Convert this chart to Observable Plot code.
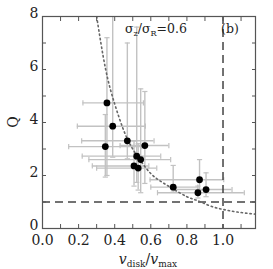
<!DOCTYPE html>
<html><head><meta charset="utf-8">
<script src="https://cdn.jsdelivr.net/npm/d3@7"></script>
<script src="https://cdn.jsdelivr.net/npm/@observablehq/plot@0.6"></script>
<style>body{margin:0;background:#fff}</style>
</head><body><div id="chart"></div>
<script>
// data points
const vRatio = [0.357, 0.389, 0.47, 0.348, 0.567, 0.522, 0.544, 0.507, 0.53, 0.724, 0.87, 0.861, 0.906];
const qVal   = [4.74, 3.86, 3.31, 3.09, 3.13, 2.73, 2.6, 2.36, 2.28, 1.56, 1.84, 1.35, 1.47];
const vLo    = [0.224, 0.193, 0.217, 0.145, 0.43, 0.22, 0.257, 0.276, 0.30, 0.60, 0.596, 0.637, 0.74];
const vHi    = [0.559, 0.57, 0.618, 0.55, 0.70, 0.655, 0.71, 0.589, 0.633, 0.86, 1.004, 1.118, 1.05];
const qLo    = [2.0, 2.69, 2.63, 1.94, 1.7, 1.74, 1.35, 1.6, 1.45, 1.37, 1.45, 1.15, 1.2];
const qHi    = [7.2, 9.0, 7.0, 4.3, 5.17, 7.6, 5.27, 3.3, 3.2, 2.38, 2.6, 1.6, 2.1];
// dotted model curve
const curveX = [0.30, 0.35, 0.40, 0.45, 0.50, 0.56, 0.62, 0.71, 0.80, 0.86, 0.93, 1.00, 1.08, 1.18];
const curveQ = [8.0, 6.0, 4.7, 3.7, 3.0, 2.4, 1.95, 1.55, 1.2, 1.05, 0.85, 0.72, 0.62, 0.54];
// reference lines
const qRef = [1];
const vRef = [1.0];
// ticks
const xMajor = [0, 0.2, 0.4, 0.6, 0.8, 1.0];
const xMinor = [0, 0.1, 0.2, 0.3, 0.4, 0.5, 0.6, 0.7, 0.8, 0.9, 1.0, 1.1];
const yMajor = [0, 2, 4, 6, 8];
const yMinor = [0, 1, 2, 3, 4, 5, 6, 7, 8];

const pts = vRatio.map((v, i) => ({v, q: qVal[i], vlo: vLo[i], vhi: vHi[i], qlo: qLo[i], qhi: qHi[i]}));
const curve = curveX.map((x, i) => ({x, q: curveQ[i]}));

const vcap = {draw(ctx) { ctx.moveTo(0, -2.6); ctx.lineTo(0, 2.6); }};
const hcap = {draw(ctx) { ctx.moveTo(-2.6, 0); ctx.lineTo(2.6, 0); }};
const errColor = "#c2c2c2";
const axisColor = "#555";

const chart = Plot.plot({
  width: 273, height: 269,
  marginLeft: 42, marginRight: 18, marginTop: 16, marginBottom: 41,
  style: {fontFamily: "DejaVu Serif", fontSize: "14px", color: "#222", background: "#fff"},
  x: {domain: [0, 1.18]},
  y: {domain: [0, 8]},
  marks: [
    // error bars
    Plot.ruleY(pts, {y: "q", x1: "vlo", x2: "vhi", stroke: errColor, strokeWidth: 1.4, clip: true}),
    Plot.ruleX(pts, {x: "v", y1: "qlo", y2: "qhi", stroke: errColor, strokeWidth: 1.4, clip: true}),
    Plot.dot(pts, {x: "vlo", y: "q", symbol: vcap, stroke: errColor, strokeWidth: 1.2, fill: "none", clip: true}),
    Plot.dot(pts, {x: "vhi", y: "q", symbol: vcap, stroke: errColor, strokeWidth: 1.2, fill: "none", clip: true}),
    Plot.dot(pts, {x: "v", y: "qlo", symbol: hcap, stroke: errColor, strokeWidth: 1.2, fill: "none", clip: true}),
    Plot.dot(pts, {x: "v", y: "qhi", symbol: hcap, stroke: errColor, strokeWidth: 1.2, fill: "none", clip: true}),
    // reference lines
    Plot.ruleY(qRef, {stroke: "#444", strokeWidth: 1.5, strokeDasharray: "8,5"}),
    Plot.ruleX(vRef, {stroke: "#444", strokeWidth: 1.5, strokeDasharray: "8,5"}),
    // model curve
    Plot.line(curve, {x: "x", y: "q", curve: "natural", stroke: "#666", strokeWidth: 1.6, strokeDasharray: "1.4,3", clip: true}),
    // points
    Plot.dot(pts, {x: "v", y: "q", r: 3.4, fill: "#000", stroke: "none"}),
    // frame and ticks
    Plot.frame({stroke: axisColor, strokeWidth: 1.2}),
    Plot.axisX(xMinor, {anchor: "bottom", tickSize: -4, tickFormat: () => "", stroke: axisColor, label: null}),
    Plot.axisX(xMinor, {anchor: "top", tickSize: -4, tickFormat: () => "", stroke: axisColor, label: null}),
    Plot.axisY(yMinor, {anchor: "left", tickSize: -4, tickFormat: () => "", stroke: axisColor, label: null}),
    Plot.axisY(yMinor, {anchor: "right", tickSize: -4, tickFormat: () => "", stroke: axisColor, label: null}),
    Plot.axisX(xMajor, {anchor: "bottom", tickSize: 0, tickPadding: 7, tickFormat: d3.format(".1f"), label: null, fontSize: 14, fill: "#222"}),
    Plot.axisY(yMajor, {anchor: "left", tickSize: 0, tickPadding: 4, dy: -3, tickFormat: d3.format("d"), label: null, fontSize: 14, fill: "#222"})
  ]
});
document.getElementById("chart").appendChild(chart);

const svg = d3.select(chart);
// x label
const xl = svg.append("text").attr("x", 148).attr("y", 264).attr("text-anchor", "middle")
  .attr("font-family", "DejaVu Serif").attr("font-size", 14).attr("fill", "#222");
xl.append("tspan").attr("font-style", "italic").text("v");
xl.append("tspan").attr("font-size", 9).attr("dy", 3).text("disk");
xl.append("tspan").attr("dy", -3).text("/");
xl.append("tspan").attr("font-style", "italic").text("v");
xl.append("tspan").attr("font-size", 9).attr("dy", 3).text("max");
// y label
svg.append("text").attr("transform", "translate(18,122) rotate(-90)").attr("text-anchor", "middle")
  .attr("font-family", "DejaVu Serif").attr("font-size", 14).attr("fill", "#222").text("Q");
// annotation
const an = svg.append("text").attr("x", 156).attr("y", 33)
  .attr("font-family", "DejaVu Serif").attr("font-size", 12.5).attr("fill", "#222");
an.append("tspan").text("σ");
an.append("tspan").attr("font-size", 8).attr("dy", 3).text("z");
an.append("tspan").attr("dy", -3).text("/σ");
an.append("tspan").attr("font-size", 8).attr("dy", 3).text("R");
an.append("tspan").attr("dy", -3).text("=0.6");
svg.append("text").attr("x", 230).attr("y", 33)
  .attr("font-family", "DejaVu Serif").attr("font-size", 12.5).attr("fill", "#222").text("(b)");
</script>
</body></html>
